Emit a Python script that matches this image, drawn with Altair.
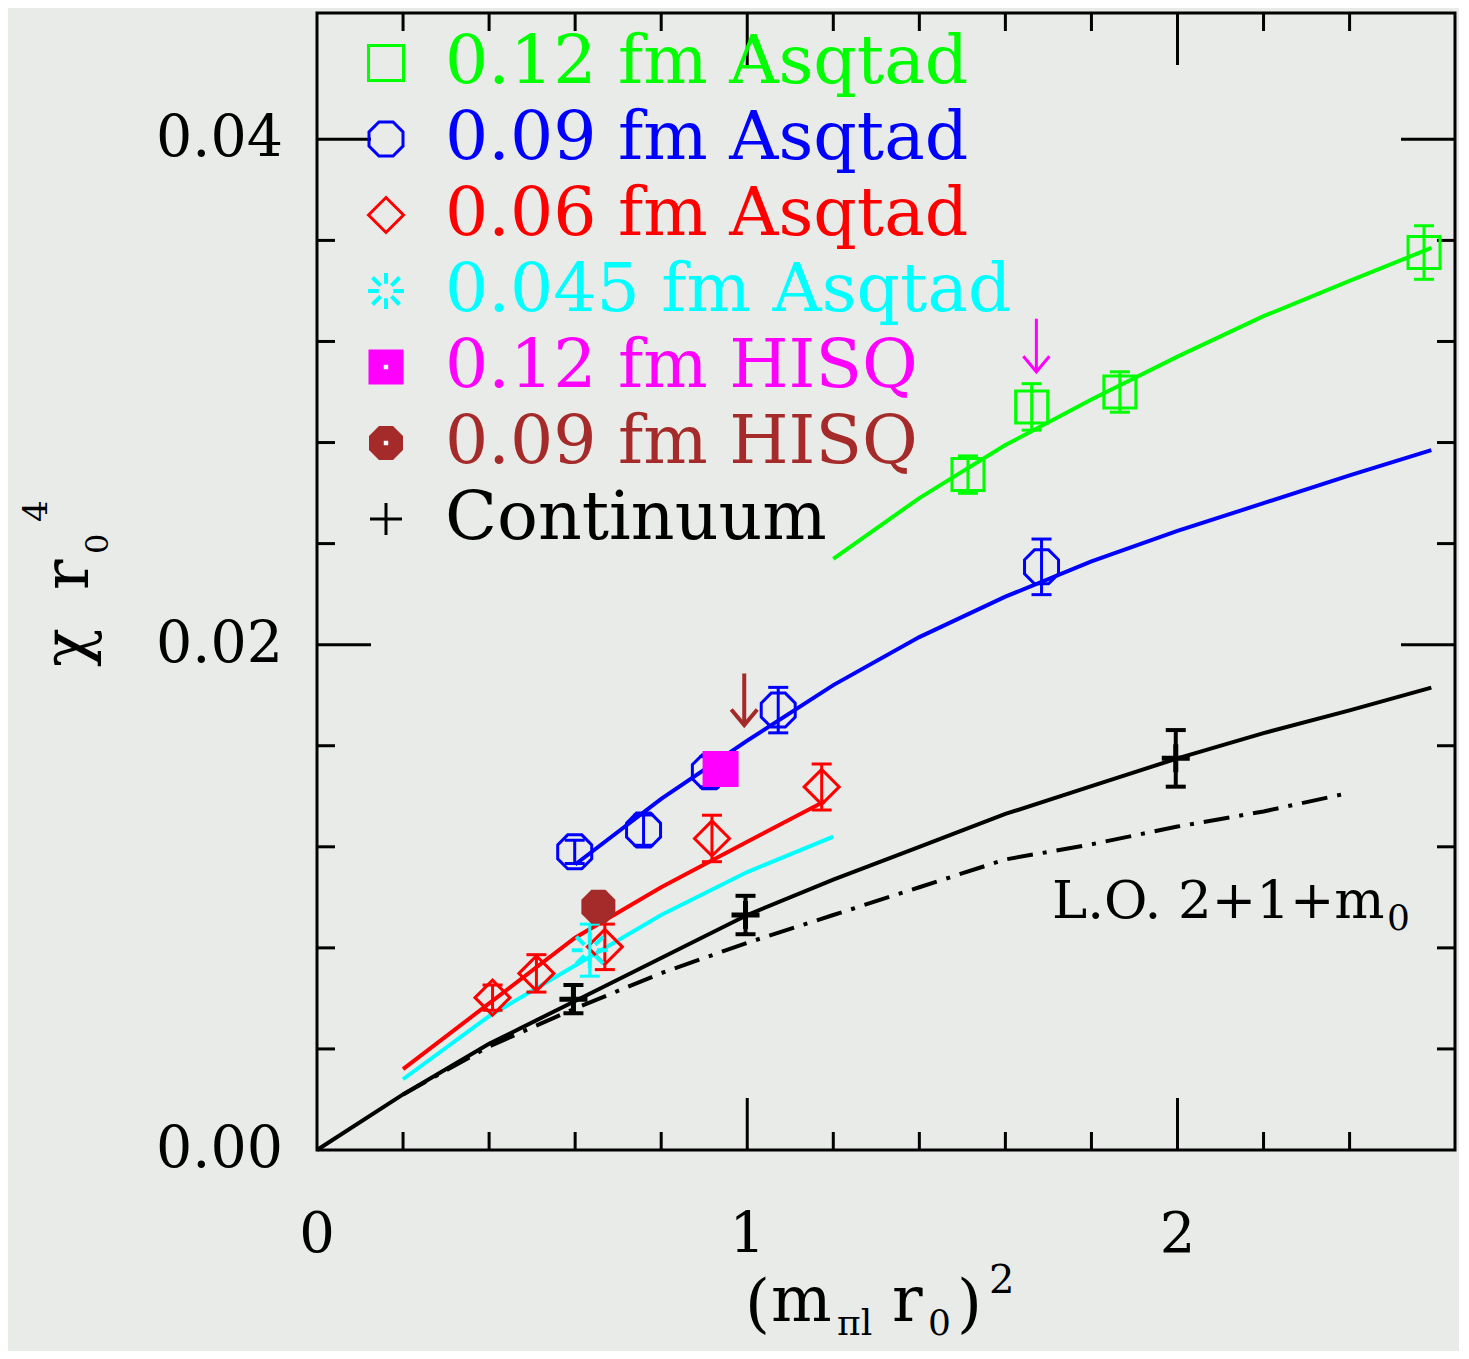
import altair as alt
import pandas as pd

# ---------------- data ----------------
green_x = [1.513, 1.661, 1.866, 2.573]
green_y = [0.02673, 0.02941, 0.0300, 0.03552]
green_e = [0.00074, 0.00092, 0.0008, 0.00106]

blue_x = [0.599, 0.759, 0.912, 1.072, 1.684]
blue_y = [0.01180, 0.01266, 0.01497, 0.01741, 0.02308]
blue_e = [0.00046, 0.0006, 0.0006, 0.0009, 0.0011]

red_x = [0.408, 0.510, 0.669, 0.918, 1.173]
red_y = [0.00603, 0.00699, 0.00804, 0.01233, 0.01437]
red_e = [0.0005, 0.00074, 0.0009, 0.00092, 0.00091]

cyan_x = [0.634]
cyan_y = [0.00791]
cyan_e = [0.00103]

hisq12_x = [0.938]
hisq12_y = [0.01508]

hisq09_x = [0.654]
hisq09_y = [0.00963]

cont_x = [0.596, 0.996, 1.996]
cont_y = [0.00597, 0.0093, 0.0155]
cont_e = [0.00056, 0.00076, 0.00112]

green_line_x = [1.2, 1.4, 1.6, 1.8, 2.0, 2.2, 2.4, 2.59]
green_line_y = [0.0234, 0.0258, 0.0279, 0.0297, 0.0314, 0.0330, 0.0344, 0.0357]

blue_line_x = [0.6, 0.8, 1.0, 1.2, 1.4, 1.6, 1.8, 2.0, 2.2, 2.4, 2.59]
blue_line_y = [0.0113, 0.0139, 0.0162, 0.0184, 0.0203, 0.0219, 0.0233, 0.0245, 0.0256, 0.0267, 0.0277]

red_line_x = [0.2, 0.4, 0.6, 0.8, 1.0, 1.18]
red_line_y = [0.0032, 0.0058, 0.0084, 0.0104, 0.0122, 0.0138]

cyan_line_x = [0.2, 0.4, 0.6, 0.8, 1.0, 1.2]
cyan_line_y = [0.0028, 0.0053, 0.0073, 0.0093, 0.0110, 0.0124]

black_line_x = [0, 0.2, 0.4, 0.6, 0.8, 1.0, 1.2, 1.4, 1.6, 1.8, 2.0, 2.2, 2.4, 2.59]
black_line_y = [0, 0.0022, 0.0042, 0.0059, 0.0076, 0.0093, 0.0107, 0.0120, 0.0133, 0.0144, 0.0155, 0.0165, 0.0174, 0.0183]

lo_line_x = [0.2, 0.4, 0.6, 0.8, 1.0, 1.2, 1.4, 1.6, 1.8, 2.0, 2.2, 2.39]
lo_line_y = [0.0022, 0.0041, 0.0056, 0.0070, 0.0082, 0.0093, 0.0104, 0.0115, 0.0121, 0.0128, 0.0134, 0.0141]

# arrows: x, y_start, y_tip
arrow_brown = [0.993, 0.01886, 0.01682]
arrow_magenta = [1.672, 0.0329, 0.0308]

x_major = [1, 2]
x_minor = [0.2, 0.4, 0.6, 0.8, 1.2, 1.4, 1.6, 1.8, 2.2, 2.4]
y_major = [0.02, 0.04]
y_minor = [0.004, 0.008, 0.012, 0.016, 0.024, 0.028, 0.032, 0.036]

x_label_vals = [0, 1, 2]
x_label_text = ["0", "1", "2"]
y_label_vals = [0.0, 0.02, 0.04]
y_label_text = ["0.00", "0.02", "0.04"]

legend_labels = ["0.12 fm Asqtad", "0.09 fm Asqtad", "0.06 fm Asqtad",
                 "0.045 fm Asqtad", "0.12 fm HISQ", "0.09 fm HISQ", "Continuum"]

# ---------------- styling ----------------
W, H = 1138, 1137
BG = "#e9ebe8"
FONT = "DejaVu Serif"
GREEN, BLUE, RED, CYAN, MAG, BROWN, BLACK = "#00ff00", "#0000ff", "#ff0000", "#00ffff", "#ff00ff", "#a52a2a", "#000000"

OCT = "M-0.414,-1L0.414,-1L1,-0.414L1,0.414L0.414,1L-0.414,1L-1,0.414L-1,-0.414Z"
STAR = ("M0,-0.4L0,-1M0,0.4L0,1M-0.4,0L-1,0M0.4,0L1,0"
        "M-0.3,-0.3L-0.75,-0.75M0.3,-0.3L0.75,-0.75M-0.3,0.3L-0.75,0.75M0.3,0.3L0.75,0.75")
PLUS = "M-1,0L1,0M0,-1L0,1"
HEAD = "M-1,-1.2L0,0L1,-1.2"

xs = alt.Scale(domain=[0, 2.645], nice=False, zero=False)
ys = alt.Scale(domain=[0, 0.045], nice=False, zero=False)


def X(f="x"):
    return alt.X(f"{f}:Q", scale=xs, axis=None)


def Y(f="y"):
    return alt.Y(f"{f}:Q", scale=ys, axis=None)


layers = []

# tick labels
layers.append(alt.Chart(pd.DataFrame({"v": x_label_vals, "t": x_label_text})).mark_text(
    font=FONT, fontSize=56, color="black", align="center", baseline="alphabetic").encode(
    x=X("v"), y=alt.value(H + 102), text="t:N"))
layers.append(alt.Chart(pd.DataFrame({"v": y_label_vals, "t": y_label_text})).mark_text(
    font=FONT, fontSize=57, color="black", align="right", baseline="middle").encode(
    y=Y("v"), x=alt.value(-34), text="t:N"))

# inward ticks on all four sides
for vals, L in [(x_major, 52), (x_minor, 18)]:
    tdf = pd.DataFrame({"v": vals})
    layers.append(alt.Chart(tdf).mark_rule(color="black", strokeWidth=3).encode(
        x=X("v"), y=alt.value(0), y2=alt.value(L)))
    layers.append(alt.Chart(tdf).mark_rule(color="black", strokeWidth=3).encode(
        x=X("v"), y=alt.value(H), y2=alt.value(H - L)))
for vals, L in [(y_major, 54), (y_minor, 18)]:
    tdf = pd.DataFrame({"v": vals})
    layers.append(alt.Chart(tdf).mark_rule(color="black", strokeWidth=3).encode(
        y=Y("v"), x=alt.value(0), x2=alt.value(L)))
    layers.append(alt.Chart(tdf).mark_rule(color="black", strokeWidth=3).encode(
        y=Y("v"), x=alt.value(W), x2=alt.value(W - L)))

# curves
for lx, ly, col, dash in [
    (black_line_x, black_line_y, BLACK, None),
    (lo_line_x, lo_line_y, BLACK, [26, 10, 4, 10]),
    (cyan_line_x, cyan_line_y, CYAN, None),
    (red_line_x, red_line_y, RED, None),
    (blue_line_x, blue_line_y, BLUE, None),
    (green_line_x, green_line_y, GREEN, None),
]:
    kw = dict(color=col, strokeWidth=4)
    if dash is not None:
        kw["strokeDash"] = dash
    layers.append(alt.Chart(pd.DataFrame({"x": lx, "y": ly})).mark_line(**kw).encode(
        x=X(), y=Y(), order="x:Q"))


def err_layers(xv, yv, ev, col, sw=3):
    c = alt.Chart(pd.DataFrame({"x": xv, "y": yv, "e": ev})).transform_calculate(
        lo="datum.y - datum.e", hi="datum.y + datum.e")
    return [
        c.mark_rule(color=col, strokeWidth=sw).encode(x=X(), y=Y("lo"), y2="hi:Q"),
        c.mark_tick(color=col, orient="horizontal", size=20, thickness=sw, opacity=1).encode(x=X(), y=Y("lo")),
        c.mark_tick(color=col, orient="horizontal", size=20, thickness=sw, opacity=1).encode(x=X(), y=Y("hi")),
    ]


def pts(xv, yv, col, shape, size, filled=False, sw=3):
    return alt.Chart(pd.DataFrame({"x": xv, "y": yv})).mark_point(
        shape=shape, size=size, filled=filled, color=col, strokeWidth=sw, opacity=1).encode(x=X(), y=Y())


layers += err_layers(cont_x, cont_y, cont_e, BLACK, sw=4)
layers.append(pts(cont_x, cont_y, BLACK, PLUS, 784, sw=5))
layers += err_layers(red_x, red_y, red_e, RED)
layers.append(pts(red_x, red_y, RED, "diamond", 1225))
layers += err_layers(cyan_x, cyan_y, cyan_e, CYAN)
layers.append(pts(cyan_x, cyan_y, CYAN, STAR, 1296, sw=4))
layers += err_layers(blue_x, blue_y, blue_e, BLUE)
layers.append(pts(blue_x, blue_y, BLUE, OCT, 1156))
layers += err_layers(green_x, green_y, green_e, GREEN)
layers.append(pts(green_x, green_y, GREEN, "square", 1024))
layers.append(pts(hisq09_x, hisq09_y, BROWN, OCT, 1156, filled=True))
layers.append(pts(hisq12_x, hisq12_y, MAG, "square", 1296, filled=True))

# arrows
for (ax, ay0, ay1), col, sw in [(arrow_brown, BROWN, 4), (arrow_magenta, MAG, 3)]:
    adf = pd.DataFrame({"x": [ax], "y": [ay1], "y0": [ay0]})
    layers.append(alt.Chart(adf).mark_rule(color=col, strokeWidth=sw).encode(x=X(), y=Y("y0"), y2="y:Q"))
    layers.append(alt.Chart(adf).mark_point(shape=HEAD, size=676, filled=False, color=col,
                                            strokeWidth=sw, opacity=1).encode(x=X(), y=Y()))

# legend
one = pd.DataFrame({"a": [0]})
leg_styles = [
    (GREEN, "square", 1225, False), (BLUE, OCT, 1156, False), (RED, "diamond", 1225, False),
    (CYAN, STAR, 1296, False), (MAG, "square", 1225, True), (BROWN, OCT, 1156, True),
    (BLACK, PLUS, 1024, False),
]
for i, (lab, (col, shp, sz, fil)) in enumerate(zip(legend_labels, leg_styles)):
    yy = 50 + 76 * i
    layers.append(alt.Chart(one).mark_point(shape=shp, size=sz, filled=fil, color=col,
                                            strokeWidth=3 if shp != STAR else 4,
                                            opacity=1).encode(x=alt.value(69), y=alt.value(yy)))
    if fil:
        layers.append(alt.Chart(one).mark_point(shape="square", size=20, filled=True, color="white",
                                                opacity=1).encode(x=alt.value(69), y=alt.value(yy)))
    layers.append(alt.Chart(one).mark_text(text=lab, font=FONT, fontSize=68, color=col, align="left",
                                           baseline="middle").encode(x=alt.value(128), y=alt.value(yy)))


def txt(s, x, y, size, angle=0, baseline="alphabetic"):
    kw = dict(text=s, font=FONT, fontSize=size, color="black", align="left", baseline=baseline)
    if angle:
        kw["angle"] = angle
    return alt.Chart(one).mark_text(**kw).encode(x=alt.value(x), y=alt.value(y))


# annotation L.O. 2+1+m0
layers.append(txt("L.O. 2+1+m", 735, 905, 53))
layers.append(txt("0", 1070, 917, 36))

# x title (m_{πl} r_0)^2
layers += [
    txt("(", 428, 1312, 64),
    txt("m", 454, 1308, 64),
    txt("πl", 520, 1322, 36),
    txt("r", 575, 1308, 64),
    txt("0", 611, 1322, 36),
    txt(")", 640, 1312, 64),
    txt("2", 672, 1280, 40),
]

# y title chi r_0^4 (rotated)
layers += [
    txt("χ", -229, 654, 64, angle=270),
    txt("r", -229, 577, 64, angle=270),
    txt("0", -209, 541, 32, angle=270),
    txt("4", -270, 509, 34, angle=270),
]

chart = alt.layer(*layers).properties(
    width=W, height=H, background=BG,
    autosize=alt.AutoSizeParams(type="none"),
    padding={"left": 309, "top": 5, "right": 4, "bottom": 201},
).configure_view(stroke="black", strokeWidth=3, fill=BG)

chart.save("out.html", embed_options={"renderer": "svg", "actions": False})
